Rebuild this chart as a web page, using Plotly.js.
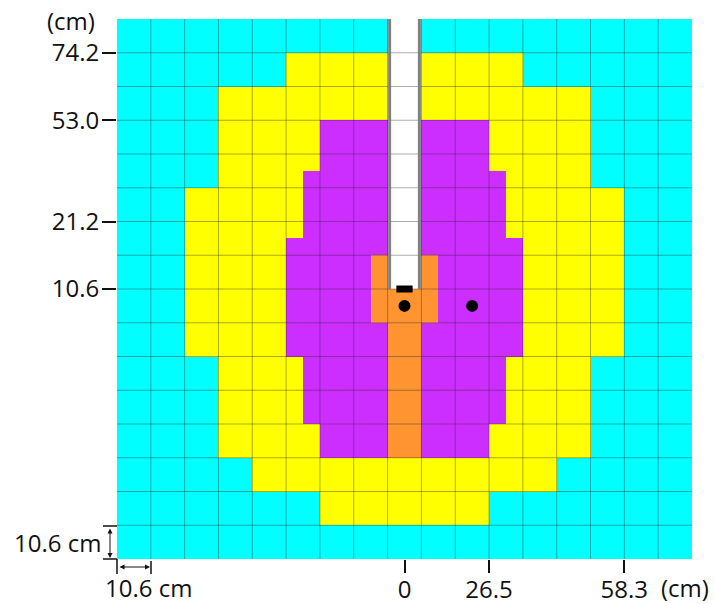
<!DOCTYPE html>
<html>
<head>
<meta charset="utf-8">
<script src="https://cdn.plot.ly/plotly-3.0.1.min.js"></script>
<style>html,body{margin:0;padding:0;background:#fff}#c{width:714px;height:604px}</style>
</head>
<body>
<div id="c"></div>
<script>
// All positions are in grid-cell units: one cell is 10.6 cm. Half-cell resolution, rows listed top to bottom.
var yellowHalfWidth = [0,0, 7,7, 11,11,11,11,11,11, 13,13,13,13,13,13,13,13,13,13, 11,11,11,11,11,11, 9,9, 5,5, 0,0];
var purpleHalfWidth = [0,0,0,0,0,0, 5,5,5, 6,6,6,6, 7,7,7,7,7,7,7, 6,6,6,6, 5,5, 0,0,0,0,0,0];
var orangeHalfWidth = [0,0,0,0,0,0,0,0,0,0,0,0,0,0, 2,2,2,2, 1,1,1,1,1,1,1,1, 0,0,0,0,0,0];
var whiteHalfWidth  = [1,1,1,1,1,1,1,1,1,1,1,1,1,1,1,1, 0,0,0,0,0,0,0,0,0,0,0,0,0,0,0,0];

var xTickVals = [0, 2.5, 6.5];
var xTickText = ['0', '26.5', '58.3'];
var yTickVals = [15, 13, 10, 8];
var yTickText = ['74.2', '53.0', '21.2', '10.6'];

var gridX = [-7.5,-6.5,-5.5,-4.5,-3.5,-2.5,-1.5,-0.5,0.5,1.5,2.5,3.5,4.5,5.5,6.5,7.5];
var gridY = [1,2,3,4,5,6,7,8,9,10,11,12,13,14,15];

var wallX = [-0.44, 0.44];
var wallY = [8, 16];
var barX = [-0.24, 0.24];
var barY = [8, 8];
var dotX = [0, 2];
var dotY = [7.5, 7.5];

var cyan = '#00FFFF', yellow = '#FFFF00', purple = '#CC2EFF', orange = '#FF9430', white = '#FFFFFF';
var font = 'Open Sans, sans-serif', fontSize = 24, ink = '#111';

var COLS = 34, ROWS = 32;
var xs = [], ys = [], z = [];
for (var i = 0; i < COLS; i++) xs.push(-8.5 + (i + 0.5) / 2);
for (var r = 0; r < ROWS; r++) {
  ys.push(16 - (r + 0.5) / 2);
  var row = [];
  for (var c = 0; c < COLS; c++) {
    var d = Math.abs(c + 0.5 - COLS / 2), v = 0;
    if (d < yellowHalfWidth[r]) v = 1;
    if (d < purpleHalfWidth[r]) v = 2;
    if (d < orangeHalfWidth[r]) v = 3;
    if (d < whiteHalfWidth[r]) v = 4;
    row.push(v);
  }
  z.push(row);
}

var gx = [], gy = [];
gridX.forEach(function (x) { gx.push(x, x, null); gy.push(0, 16, null); });
gridY.forEach(function (y) { gx.push(-8.5, 8.5, null); gy.push(y, y, null); });

var traces = [
  { type: 'heatmap', x: xs, y: ys, z: z, zmin: 0, zmax: 4, showscale: false, hoverinfo: 'skip',
    colorscale: [[0,cyan],[0.2,cyan],[0.2,yellow],[0.4,yellow],[0.4,purple],[0.6,purple],[0.6,orange],[0.8,orange],[0.8,white],[1,white]] },
  { type: 'scatter', mode: 'lines', x: gx, y: gy, line: { color: 'rgba(40,40,40,0.38)', width: 1 }, hoverinfo: 'skip' },
  { type: 'scatter', mode: 'lines', x: [wallX[0], wallX[0], null, wallX[1], wallX[1]], y: [wallY[0], wallY[1], null, wallY[0], wallY[1]],
    line: { color: '#808080', width: 3 }, hoverinfo: 'skip' },
  { type: 'scatter', mode: 'lines', x: barX, y: barY, line: { color: '#000', width: 7 }, hoverinfo: 'skip' },
  { type: 'scatter', mode: 'markers', x: dotX, y: dotY, marker: { color: '#000', size: 12 }, hoverinfo: 'skip' }
];

var px = function (p) { return (p - 117) / 575; };
var py = function (p) { return (559 - p) / 540; };
var annText = function (t, x, y, anchor) {
  return { text: t, xref: 'paper', yref: 'paper', x: px(x), y: py(y),
           xanchor: anchor, yanchor: 'middle', showarrow: false, font: { family: font, size: fontSize, color: ink } };
};
var arrow = function (x0, y0, x1, y1) {
  return { xref: 'paper', yref: 'paper', axref: 'pixel', ayref: 'pixel', x: px(x1), y: py(y1), ax: x0 - x1, ay: y0 - y1, text: '', showarrow: true,
           arrowhead: 2, arrowside: 'end+start', arrowsize: 1, arrowwidth: 1, arrowcolor: ink, standoff: 0, startstandoff: 0 };
};
var cap = function (x0, y0, x1, y1) {
  return { type: 'line', xref: 'paper', yref: 'paper', x0: px(x0), y0: py(y0), x1: px(x1), y1: py(y1), line: { color: ink, width: 1.5 } };
};

var layout = {
  width: 714, height: 604, showlegend: false,
  margin: { l: 117, r: 22, t: 19, b: 45 },
  paper_bgcolor: '#fff', plot_bgcolor: '#fff',
  xaxis: { range: [-8.5, 8.5], tickmode: 'array', tickvals: xTickVals, ticktext: xTickText,
           ticks: 'outside', ticklen: 13, tickwidth: 2, tickcolor: ink, showgrid: false, zeroline: false, showline: false,
           ticklabelstandoff: -4,
           tickfont: { family: font, size: fontSize, color: ink }, fixedrange: true },
  yaxis: { range: [0, 16], tickmode: 'array', tickvals: yTickVals, ticktext: yTickText,
           ticks: 'outside', ticklen: 14, tickwidth: 2, tickcolor: ink, showgrid: false, zeroline: false, showline: false,
           ticklabelstandoff: -2,
           tickfont: { family: font, size: fontSize, color: ink }, fixedrange: true },
  shapes: [
    cap(103, 526, 117, 526),
    cap(103, 559, 117, 559),
    cap(117, 559, 117, 574),
    cap(151, 561, 151, 574)
  ],
  annotations: [
    annText('(cm)', 71, 20, 'center'),
    annText('(cm)', 711, 587, 'right'),
    annText('10.6 cm', 103, 542, 'right'),
    annText('10.6 cm', 148, 587, 'center'),
    arrow(110, 527, 110, 558),
    arrow(118, 567, 150, 567)
  ]
};
Plotly.newPlot('c', traces, layout, { displayModeBar: false, staticPlot: true });
</script>
</body>
</html>
